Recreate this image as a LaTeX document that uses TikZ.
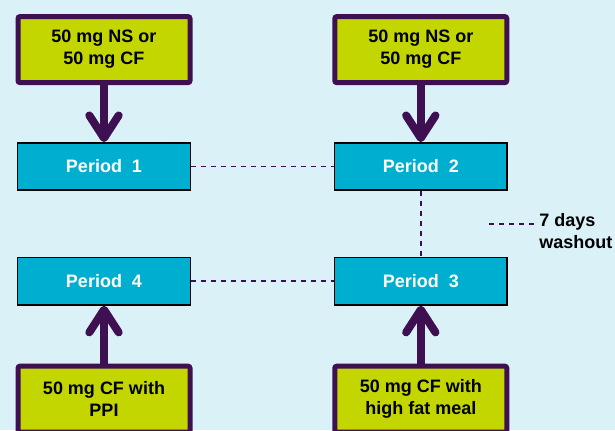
\documentclass[tikz,border=0pt]{standalone}
\usepackage{fontspec}
\setmainfont{Liberation Sans}
\usepackage{tikz}
\usetikzlibrary{positioning, arrows.meta}
\definecolor{cBg}{RGB}{218,241,248}
\definecolor{cDose}{RGB}{196,214,0}
\definecolor{cPlum}{RGB}{62,16,82}
\definecolor{cPer}{RGB}{0,174,207}

\begin{document}
\begin{tikzpicture}[x=0.75pt, y=-0.75pt, every node/.style={font=\fontsize{13.5}{16.5}\selectfont\bfseries},
   dose/.style={draw=cPlum, fill=cDose, line width=3.75pt, rounded corners=1.5pt, align=center, minimum width=129pt, minimum height=49.5pt, inner sep=0pt},
   period/.style={draw=black, fill=cPer, line width=1.1pt, text=white, minimum width=129.5pt, minimum height=35.5pt},
   arr/.style={-{Straight Barb[length=17pt, width=22pt, round]}, line width=6pt, color=cPlum},
   link/.style={cPlum, line width=1.3pt, dash pattern=on 4pt off 3.5pt}]
  \fill[cBg] (0,0) rectangle (615,430);
  \useasboundingbox (0,0) rectangle (615,430);
  \node[period] (p1) at (104,166.5) {Period~ 1};
  \node[period, right=107pt of p1] (p2) {Period~ 2};
  \node[period, below=49.5pt of p1] (p4) {Period~ 4};
  \node[period, below=49.5pt of p2] (p3) {Period~ 3};
  \node[dose, above=42.75pt of p1] (d1) {50 mg NS or\\50 mg CF};
  \node[dose, above=42.75pt of p2] (d2) {50 mg NS or\\50 mg CF};
  \node[dose, below=43.5pt of p4] (d4) {50 mg CF with\\PPI};
  \node[dose, below=43.5pt of p3] (d3) {50 mg CF with\\high fat meal};
  \foreach \i/\j in {d1/p1,d2/p2,d4/p4,d3/p3} \draw[arr] (\i) -- (\j);
  \foreach \i/\j in {p1/p2,p2/p3,p4/p3} \draw[link] (\i) -- (\j);
  % legend
  \node[align=left, anchor=west, inner sep=0pt] (wash) at (539,231) {7 days\\washout};
  \coordinate (leg) at (489,224);
  \draw[link] (leg) -- ([xshift=-1pt]leg -| wash.west);
\end{tikzpicture}
\end{document}
